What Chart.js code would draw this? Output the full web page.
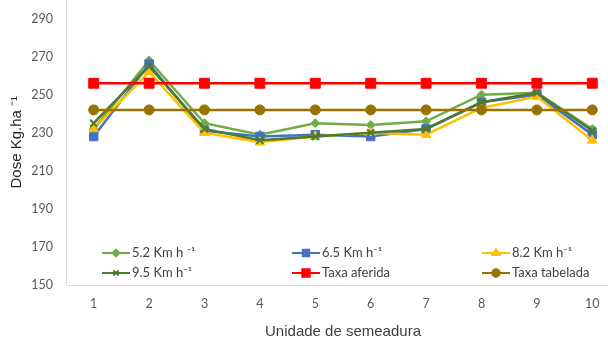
<!DOCTYPE html>
<html lang="pt">
<head>
<meta charset="utf-8">
<script src="https://cdn.jsdelivr.net/npm/chart.js@4.4.1/dist/chart.umd.min.js"></script>
<style>
  html, body { margin: 0; padding: 0; background: #fff; overflow: hidden; }
  .wrap { position: absolute; left: 0; top: -21px; width: 628px; height: 362px; }
</style>
</head>
<body>
<div class="wrap"><canvas id="c"></canvas></div>
<script>
  // valores
  const categories = ['1', '2', '3', '4', '5', '6', '7', '8', '9', '10'];
  const v52 = [232, 268, 235, 229, 235, 234, 236, 250, 251, 232];
  const v65 = [228, 266, 231, 228, 229, 228, 232, 246, 250, 229];
  const v82 = [232, 262, 230, 225, 228, 230, 229, 243, 249, 226];
  const v95 = [235, 265, 232, 226, 228, 230, 232, 246, 251, 231];
  const aferida = [256, 256, 256, 256, 256, 256, 256, 256, 256, 256];
  const tabelada = [242, 242, 242, 242, 242, 242, 242, 242, 242, 242];
  const yTicks = [150, 170, 190, 210, 230, 250, 270, 290];

  const series = [
    { label: '5.2 Km h \u207B\u00B9', data: v52, color: '#70AD47', style: 'rectRot', r: 4.5 },
    { label: '6.5 Km h\u207B\u00B9', data: v65, color: '#4472C4', style: 'rect', r: 6 },
    { label: '8.2 Km h\u207B\u00B9', data: v82, color: '#FFC000', style: 'triangle', r: 5.5 },
    { label: '9.5 Km h\u207B\u00B9', data: v95, color: '#4E7A2E', style: 'crossRot', r: 5 },
    { label: 'Taxa aferida', data: aferida, color: '#FF0000', style: 'rect', r: 7 },
    { label: 'Taxa tabelada', data: tabelada, color: '#997300', style: 'circle', r: 5 }
  ];

  // legenda desenhada dentro da área do gráfico, 2 linhas x 3 colunas
  const insideLegend = {
    id: 'insideLegend',
    afterDraw(chart) {
      const ctx = chart.ctx;
      const a = chart.chartArea;
      ctx.save();
      ctx.font = '13px Lato, "Open Sans", sans-serif';
      ctx.textBaseline = 'middle';
      series.forEach((s, i) => {
        const col = i % 3, row = Math.floor(i / 3);
        const x = a.left + 36 + col * 190;
        const y = a.bottom - 32 + row * 20;
        ctx.strokeStyle = s.color;
        ctx.fillStyle = s.color;
        ctx.lineWidth = 2;
        ctx.beginPath();
        ctx.moveTo(x, y);
        ctx.lineTo(x + 28, y);
        ctx.stroke();
        Chart.helpers.drawPoint(ctx, { pointStyle: s.style, radius: s.r * 0.75, rotation: 0, borderWidth: s.style === 'crossRot' ? 1.2 : 1 }, x + 14, y);
        ctx.fillStyle = '#404040';
        ctx.fillText(s.label, x + 30, y);
      });
      ctx.restore();
    }
  };

  new Chart(document.getElementById('c'), {
    type: 'line',
    data: {
      labels: categories,
      datasets: series.map((s, i) => ({
        label: s.label,
        data: s.data,
        borderColor: s.color,
        backgroundColor: s.color,
        borderWidth: 2.5,
        pointStyle: s.style,
        pointRadius: s.r,
        pointBorderWidth: s.style === 'crossRot' ? 2 : 1,
        tension: 0,
        order: series.length - i
      }))
    },
    options: {
      responsive: true,
      maintainAspectRatio: false,
      animation: false,
      layout: { padding: 0 },
      plugins: { legend: { display: false }, tooltip: { enabled: false } },
      scales: {
        x: {
          offset: true,
          grid: { display: false, drawTicks: false },
          border: { display: true, color: '#D9D9D9', width: 1 },
          ticks: { color: '#595959', font: { family: 'Lato, "Open Sans", sans-serif', size: 12.5 }, padding: 11, maxRotation: 0 },
          title: {
            display: true, text: 'Unidade de semeadura', color: '#404040',
            font: { family: '"Liberation Sans", Arial, sans-serif', size: 15 },
            padding: { top: 0, bottom: 0 }
          },
          afterFit(scale) { scale.height = 56; }
        },
        y: {
          min: 150,
          max: 300,
          grid: { display: false, drawTicks: false },
          border: { display: true, color: '#D9D9D9', width: 1 },
          afterBuildTicks(scale) { scale.ticks = yTicks.map(v => ({ value: v })); },
          ticks: { color: '#595959', font: { family: 'Lato, "Open Sans", sans-serif', size: 12.5 }, padding: 13 },
          title: {
            display: true, text: 'Dose Kg.ha \u207B\u00B9', color: '#262626',
            font: { family: '"Liberation Sans", Arial, sans-serif', size: 15 },
            padding: { top: 8, bottom: 0 }
          },
          afterFit(scale) { scale.width = 66; }
        }
      }
    },
    plugins: [insideLegend]
  });
</script>
</body>
</html>
